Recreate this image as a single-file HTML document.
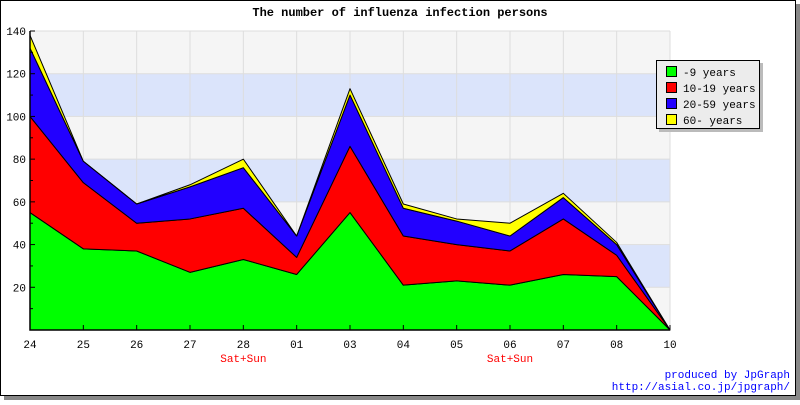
<!DOCTYPE html>
<html><head><meta charset="utf-8"><style>
body{margin:0;width:800px;height:400px;overflow:hidden;background:#fff}
svg text{font-family:"Liberation Mono","DejaVu Sans Mono",monospace}
</style></head><body>
<svg id="c" width="800" height="400" xmlns="http://www.w3.org/2000/svg">
<rect x="4" y="4" width="796" height="396" fill="#888"/>
<rect x="0.5" y="0.5" width="795" height="395" fill="#fff" stroke="#000"/>
<text x="400" y="16" text-anchor="middle" font-size="12" font-weight="bold">The number of influenza infection persons</text>
<g id="bands"></g><g id="grid"></g><g id="areas"></g><g id="axes"></g>
<g>
<rect x="659" y="63" width="104" height="69" fill="#bbb"/>
<rect x="656.5" y="60.5" width="103" height="68" fill="#ececec" stroke="#000"/>
<g id="legend"></g>
</g>
<text x="790" y="378" text-anchor="end" font-size="11" fill="#00f">produced by JpGraph</text>
<text x="790" y="390" text-anchor="end" font-size="11" fill="#00f">http://asial.co.jp/jpgraph/</text>
</svg>
<script>
const categories=["24","25","26","27","28","01","03","04","05","06","07","08","10"];
const seriesNames=["-9 years","10-19 years","20-59 years","60- years"];
const kids=[55,38,37,27,33,26,55,21,23,21,26,25,0];
const teens=[45,31,13,25,24,8,31,23,17,16,26,10,0];
const adults=[32,10,9,15,19,10,24,13,11,7,10,5,0];
const seniors=[6,0,0,1,4,0,3,2,1,6,2,1,0];
const yTicks=[20,40,60,80,100,120,140];
const weekendIdx=[4,9];
const colors=["#00ff00","#ff0000","#2200ff","#ffff00"];
const NS="http://www.w3.org/2000/svg";
const X0=30,X1=670,Y0=330,Y1=31,YMAX=140;
const xs=i=>X0+(X1-X0)*i/(categories.length-1);
const ys=v=>Y0-(Y0-Y1)*v/YMAX;
function mk(tag,attrs,parent){const e=document.createElementNS(NS,tag);for(const k in attrs)e.setAttribute(k,attrs[k]);document.getElementById(parent).appendChild(e);return e;}
// bands
for(let v=0;v<YMAX;v+=20){const b=mk('rect',{x:X0,y:ys(v+20),width:X1-X0,height:ys(v)-ys(v+20),fill:(v/20)%2==1||v==0?'#f5f5f5':'#dbe4fb'},'bands');

}
// fix band colors: 0-20 gray,20-40 blue,40-60 gray,60-80 blue...
Array.from(document.getElementById('bands').children).forEach((r,i)=>r.setAttribute('fill',i%2==0?'#f5f5f5':'#dbe4fb'));
categories.forEach((c,i)=>{const l=mk('line',{x1:xs(i),x2:xs(i),y1:Y1,y2:Y0,stroke:'#ddd'},'grid');

});
yTicks.forEach(v=>{const l=mk('line',{x1:X0,x2:X1,y1:ys(v),y2:ys(v),stroke:'#ddd'},'grid');

});
// areas
const series=[kids,teens,adults,seniors];
let base=categories.map(()=>0);
series.forEach((s,k)=>{const top=base.map((b,i)=>b+s[i]);
let d=top.map((v,i)=>(i?'L':'M')+xs(i)+','+ys(v)).join('');
for(let i=categories.length-1;i>=0;i--)d+='L'+xs(i)+','+ys(base[i]);d+='Z';
const p=mk('path',{d:d,fill:colors[k],stroke:'#000','stroke-width':1,'stroke-linejoin':'round'},'areas');


base=top;});
// axes
const ax=mk('path',{d:`M${X0},${Y1}V${Y0}H${X1}`,stroke:'#000',fill:'none','stroke-width':1.5},'axes');


yTicks.forEach(v=>{const t=mk('text',{x:X0-4,y:ys(v)+4,'text-anchor':'end','font-size':11},'axes');t.textContent=v;


mk('line',{x1:X0,x2:X0+5,y1:ys(v),y2:ys(v),stroke:'#000'},'axes');
mk('line',{x1:X0,x2:X0+3,y1:ys(v-10),y2:ys(v-10),stroke:'#000'},'axes');});
categories.forEach((c,i)=>{mk('line',{x1:xs(i),x2:xs(i),y1:Y0,y2:Y0-5,stroke:'#000'},'axes');
const t=mk('text',{x:xs(i),y:Y0+18,'text-anchor':'middle','font-size':11},'axes');t.textContent=c;

});
weekendIdx.forEach(i=>{const t=mk('text',{x:xs(i),y:Y0+32,'text-anchor':'middle','font-size':11,fill:'#f00'},'axes');t.textContent='Sat+Sun';

});
seriesNames.forEach((n,k)=>{const y=66+k*16;
const r=mk('rect',{x:666.5,y:y+0.5,width:10,height:10,fill:colors[k],stroke:'#000'},'legend');


const t=mk('text',{x:683,y:y+10,'font-size':11},'legend');t.textContent=n;

});
</script>
</body></html>
